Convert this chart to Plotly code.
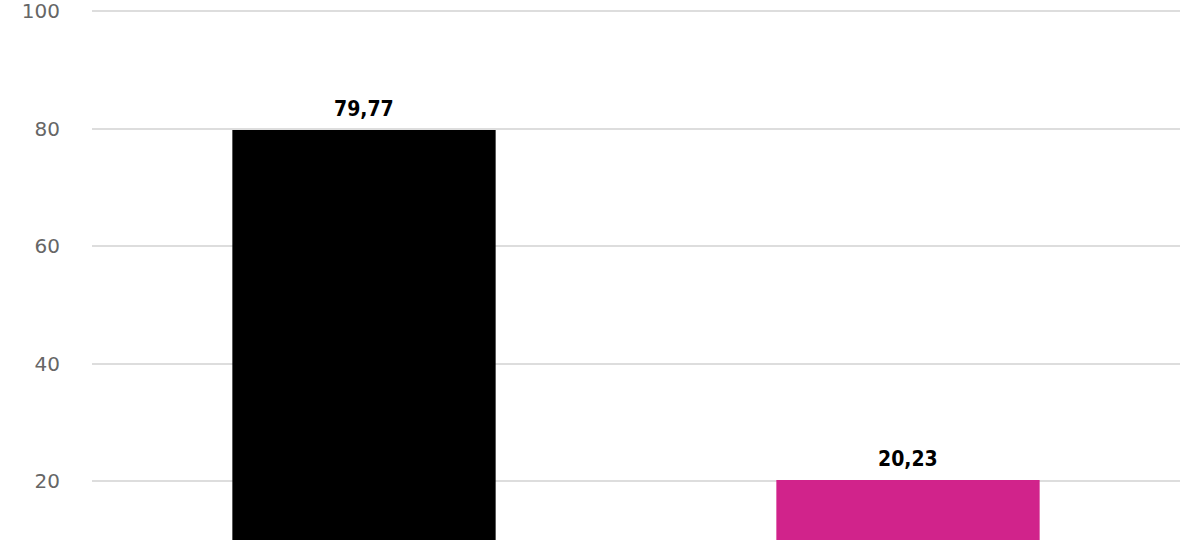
import plotly.graph_objects as go

categories = ["A", "B"]
values = [79.77, 20.23]
colors = ["#000000", "#D1238B"]
tick_vals = [20, 40, 60, 80, 100]
tick_text = ["20", "40", "60", "80", "100"]

labels = [f"{v:.2f}".replace(".", ",") for v in values]

fig = go.Figure(go.Bar(
    x=categories, y=values, marker_color=colors, marker_line_width=0,
    cliponaxis=False, hoverinfo="skip",
))
for c, v, t in zip(categories, values, labels):
    fig.add_annotation(x=c, y=v, text=t, showarrow=False, yanchor="bottom",
                       yshift=7,
                       font=dict(family="DejaVu Sans Condensed", size=21,
                                 color="#000000", weight="bold"))
fig.update_layout(
    width=1200, height=540,
    margin=dict(l=92, r=20, t=0, b=0, autoexpand=False),
    paper_bgcolor="white", plot_bgcolor="white",
    bargap=0.516, showlegend=False,
    font=dict(family="DejaVu Sans"),
)
fig.update_xaxes(showticklabels=False, showgrid=False, zeroline=False, showline=False,
                 automargin=False)
fig.update_yaxes(range=[10, 101.9], tickvals=tick_vals, ticktext=tick_text,
                 showgrid=True, gridcolor="#DDDDDD", gridwidth=1.5, zeroline=False,
                 tickfont=dict(family="DejaVu Sans", size=20, color="#666666"),
                 ticks="", ticklabelstandoff=31, automargin=False,
                 ticklabeloverflow="allow")
fig.write_html("out.html", config={"displayModeBar": False},
               post_script="document.body.style.margin='0';document.body.style.overflow='hidden';")
